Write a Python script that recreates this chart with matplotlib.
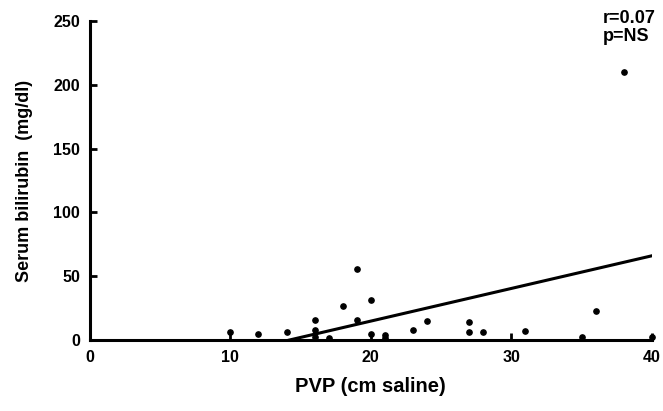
"""
Scatter of serum bilirubin against PVP, with regression line.
"""
import matplotlib.pyplot as plt

# points
pvp = [10, 12, 14, 16, 16, 16, 17, 18, 19, 19, 20, 20, 21, 21, 23, 24,
       27, 27, 28, 31, 35, 36, 38, 40]
bilirubin = [6, 5, 6, 15.5, 8, 2, 1.5, 26.5, 55.5, 16, 31.5, 4.5, 4, 1.5, 8, 15,
             14, 6.5, 6.5, 7, 2, 23, 210, 2]

# regression line end points
fit_x = [14.2, 40]
fit_y = [0, 66]

x_ticks = [0, 10, 20, 30, 40]
y_ticks = [0, 50, 100, 150, 200, 250]


def plot_bilirubin():
    plt.rcParams["font.family"] = ["Liberation Sans", "DejaVu Sans"]
    fig = plt.figure(figsize=(6.63, 4.11), dpi=100)
    ax = fig.add_axes([0.1357, 0.1727, 0.8473, 0.776])

    ax.plot(pvp, bilirubin, "o", color="black", markersize=3.8, clip_on=False)
    ax.plot(fit_x, fit_y, "-", color="black", linewidth=2.2)

    ax.set_xlim(0, 40)
    ax.set_ylim(0, 250)
    ax.set_xticks(x_ticks)
    ax.set_yticks(y_ticks)
    ax.tick_params(direction="in", length=5, width=2, labelsize=11.5, pad=7)
    for lab in ax.get_xticklabels() + ax.get_yticklabels():
        lab.set_fontweight("bold")

    for side in ["top", "right"]:
        ax.spines[side].set_visible(False)
    for side in ["left", "bottom"]:
        ax.spines[side].set_linewidth(2.2)

    ax.set_xlabel("PVP (cm saline)", fontsize=14.5, fontweight="bold", labelpad=9)
    ax.set_ylabel("Serum bilirubin  (mg/dl)", fontsize=13, fontweight="bold", labelpad=15)

    ax.text(0.913, 1.035, "r=0.07\np=NS", transform=ax.transAxes, ha="left", va="top",
            fontsize=13, fontweight="bold", linespacing=1.05)

    fig.savefig("out.png", dpi=100)


if __name__ == "__main__":
    plot_bilirubin()
